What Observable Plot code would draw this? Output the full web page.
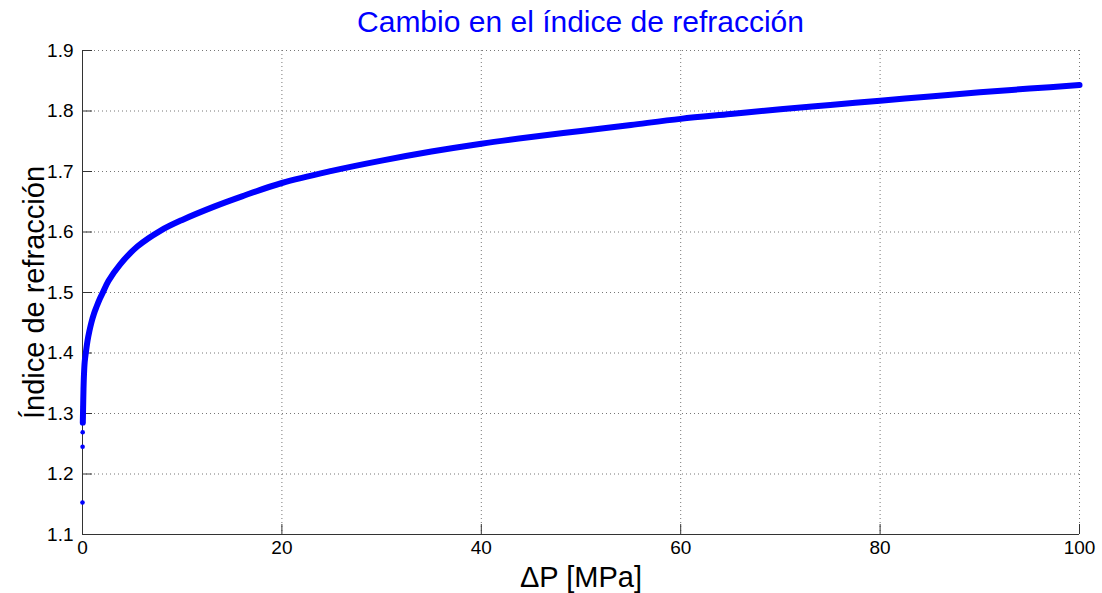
<!DOCTYPE html>
<html>
<head>
<meta charset="utf-8">
<script src="https://cdn.jsdelivr.net/npm/d3@7"></script>
<script src="https://cdn.jsdelivr.net/npm/@observablehq/plot@0.6"></script>
<style>
  html, body { margin: 0; padding: 0; background: #fff; }
  #title {
    box-sizing: border-box;
    width: 1102px; height: 40px;
    padding-left: 82px; padding-right: 23px;
    text-align: center;
    font-family: "Liberation Sans", Arial, sans-serif;
    font-size: 30px; line-height: 44px;
    color: #0000ff;
  }
</style>
</head>
<body>
<div id="title">Cambio en el índice de refracción</div>
<div id="chart"></div>
<script>
// ---- data ----
const xTicks = [0, 20, 40, 60, 80, 100];
const yTicks = [1.1, 1.2, 1.3, 1.4, 1.5, 1.6, 1.7, 1.8, 1.9];

// continuous curve (ΔP in MPa, refractive index)
const pressure = [0.03, 0.05, 0.10, 0.15, 0.22, 0.33, 0.5, 0.7, 0.9, 1.15, 1.4, 1.75, 2.07, 2.6, 3.8, 5.5, 7.8, 10, 13.2, 16, 20, 25, 30, 35, 40, 45, 50, 55, 60, 65, 70, 75, 80, 85, 90, 95, 100];
const refraction = [1.285, 1.300, 1.340, 1.365, 1.385, 1.400, 1.420, 1.437, 1.451, 1.465, 1.476, 1.490, 1.501, 1.519, 1.547, 1.576, 1.602, 1.620, 1.642, 1.659, 1.681, 1.701, 1.718, 1.733, 1.746, 1.757, 1.767, 1.777, 1.787, 1.795, 1.803, 1.810, 1.817, 1.824, 1.831, 1.837, 1.843];

// separate markers visible at the very start of the series
const dotPressure = [0, 0.01, 0.02, 0.03, 0.04, 0.05, 0.06, 0.07];
const dotRefraction = [1.153, 1.245, 1.269, 1.285, 1.293, 1.300, 1.306, 1.312];

const xLabel = "ΔP [MPa]";
const yLabel = "Índice de refracción";

// ---- build ----
const curve = pressure.map((p, i) => ({p, n: refraction[i]}));
const dots = dotPressure.map((p, i) => ({p, n: dotRefraction[i]}));

const W = 1102, H = 553;
const mL = 82, mR = 23, mT = 10, mB = 59;
const plotW = W - mL - mR, plotH = H - mT - mB;
const tickLen = 10;
const axisColor = "#333";
const gridStyle = {stroke: "#777", strokeOpacity: 1, strokeDasharray: "1,3", strokeWidth: 1};

const chart = Plot.plot({
  width: W, height: H,
  marginLeft: mL, marginRight: mR, marginTop: mT, marginBottom: mB,
  style: {fontFamily: "Liberation Sans, Arial, sans-serif", fontSize: "19px", color: "#000", background: "#fff", overflow: "visible"},
  x: {domain: [0, 100]},
  y: {domain: [1.1, 1.9]},
  marks: [
    Plot.gridX(xTicks.filter(d => d > 0), gridStyle),
    Plot.gridY(yTicks.filter(d => d > 1.1), gridStyle),
    Plot.ruleX([0], {stroke: axisColor}),
    Plot.ruleY([1.1], {stroke: axisColor}),
    Plot.ruleX(xTicks, {stroke: axisColor, insetTop: plotH - tickLen}),
    Plot.ruleY(yTicks, {stroke: axisColor, insetRight: plotW - tickLen}),
    Plot.axisX({ticks: xTicks, tickSize: 0, tickPadding: 6, fontSize: 19, label: null, tickFormat: d => String(d)}),
    Plot.axisY({ticks: yTicks, tickSize: 0, tickPadding: 9, fontSize: 19, label: null, tickFormat: d3.format(".1f")}),
    Plot.line(curve, {x: "p", y: "n", stroke: "#0000ff", strokeWidth: 6, strokeLinecap: "round", strokeLinejoin: "round", curve: "catmull-rom"}),
    Plot.dot(dots, {x: "p", y: "n", r: 2.3, fill: "#0000ff", stroke: null}),
    Plot.text([xLabel], {frameAnchor: "bottom", dy: 43, lineAnchor: "middle", textAnchor: "middle", fontSize: 29, fill: "#000"}),
    Plot.text([yLabel], {frameAnchor: "left", dx: -48, rotate: -90, lineAnchor: "middle", textAnchor: "middle", fontSize: 29, fill: "#000"})
  ]
});
document.getElementById("chart").appendChild(chart);
</script>
</body>
</html>
